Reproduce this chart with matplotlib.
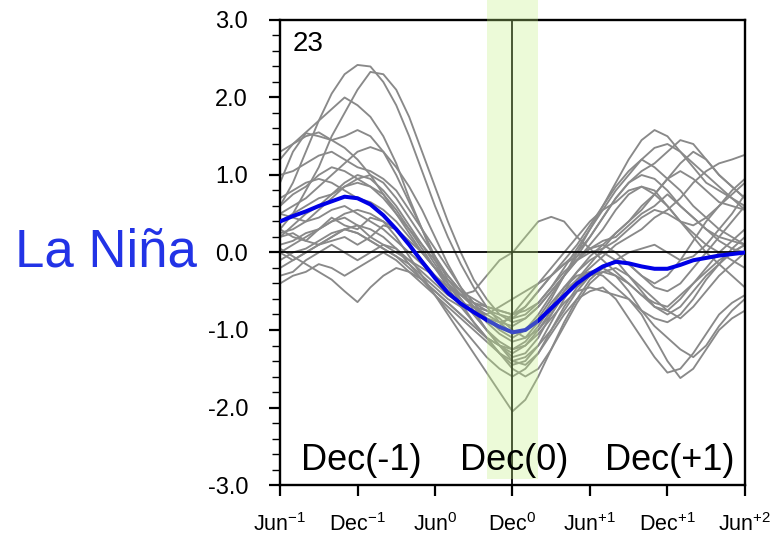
import matplotlib.pyplot as plt
import numpy as np

plt.rcParams['font.family'] = ['Liberation Sans', 'DejaVu Sans']
plt.rcParams['mathtext.fontset'] = 'custom'
plt.rcParams['mathtext.rm'] = 'Liberation Sans'
plt.rcParams['mathtext.it'] = 'Liberation Sans'

# 月 (Jun(-1) = 0 ... Jun(+2) = 36)
months = np.arange(37)
tick_pos = [0, 6, 12, 18, 24, 30, 36]
tick_labels = ['Jun$^{-1}$', 'Dec$^{-1}$', 'Jun$^{0}$', 'Dec$^{0}$',
               'Jun$^{+1}$', 'Dec$^{+1}$', 'Jun$^{+2}$']

# 各ラニーニャ事例 (23事例)
events = [
    [0.6, 0.9, 1.3, 1.7, 2.05, 2.3, 2.42, 2.4, 2.2, 1.9, 1.5, 1.05, 0.6, 0.2, -0.15, -0.45, -0.7, -0.9, -1.05, -1.0, -0.85, -0.6, -0.3, 0.0, 0.3, 0.6, 0.9, 1.2, 1.45, 1.58, 1.5, 1.3, 1.1, 0.9, 0.8, 0.7, 0.6],
    [0.3, 0.5, 0.8, 1.1, 1.5, 1.8, 2.1, 2.33, 2.3, 2.1, 1.75, 1.3, 0.85, 0.4, 0.0, -0.35, -0.6, -0.8, -0.9, -0.85, -0.7, -0.5, -0.3, -0.05, 0.2, 0.45, 0.7, 0.9, 1.05, 1.15, 1.3, 1.45, 1.4, 1.2, 1.0, 0.85, 0.7],
    [1.2, 1.4, 1.55, 1.7, 1.85, 2.0, 1.9, 1.75, 1.5, 1.15, 0.7, 0.3, -0.1, -0.4, -0.65, -0.9, -1.1, -1.3, -1.45, -1.4, -1.2, -0.9, -0.6, -0.35, -0.2, -0.05, 0.1, 0.2, 0.3, 0.45, 0.55, 0.7, 0.9, 1.05, 1.15, 1.2, 1.26],
    [1.3, 1.4, 1.5, 1.55, 1.45, 1.5, 1.58, 1.5, 1.3, 1.0, 0.65, 0.3, -0.05, -0.35, -0.55, -0.7, -0.8, -0.9, -0.95, -0.85, -0.7, -0.5, -0.3, -0.1, 0.1, 0.3, 0.55, 0.75, 0.85, 0.8, 0.6, 0.4, 0.25, 0.1, 0.0, -0.1, -0.2],
    [0.9, 1.3, 1.54, 1.5, 1.45, 1.35, 1.2, 1.0, 0.75, 0.5, 0.25, 0.0, -0.2, -0.4, -0.55, -0.65, -0.7, -0.75, -0.8, -0.7, -0.5, -0.3, -0.15, -0.05, 0.05, 0.15, 0.2, 0.35, 0.5, 0.6, 0.75, 0.6, 0.45, 0.3, 0.15, 0.05, 0.0],
    [0.5, 0.6, 0.7, 0.85, 1.0, 1.15, 1.3, 1.36, 1.3, 1.1, 0.85, 0.55, 0.2, -0.15, -0.45, -0.75, -1.0, -1.2, -1.35, -1.3, -1.1, -0.8, -0.5, -0.25, -0.05, 0.1, 0.25, 0.4, 0.55, 0.75, 0.95, 1.05, 0.95, 0.8, 0.65, 0.6, 0.55],
    [0.2, 0.35, 0.5, 0.6, 0.75, 0.9, 1.0, 0.95, 0.8, 0.6, 0.35, 0.1, -0.15, -0.4, -0.6, -0.8, -1.0, -1.15, -1.25, -1.15, -0.95, -0.7, -0.45, -0.25, -0.1, 0.0, -0.1, -0.3, -0.5, -0.7, -0.75, -0.6, -0.4, -0.2, 0.0, 0.15, 0.3],
    [0.6, 0.75, 0.85, 1.0, 1.1, 1.05, 0.95, 0.85, 0.7, 0.5, 0.3, 0.1, -0.1, -0.3, -0.5, -0.7, -0.85, -0.95, -0.8, -0.6, -0.4, -0.2, 0.0, 0.2, 0.4, 0.55, 0.65, 0.8, 0.85, 0.75, 0.6, 0.4, 0.2, 0.0, -0.15, -0.3, -0.45],
    [0.0, 0.1, 0.2, 0.3, 0.4, 0.5, 0.55, 0.5, 0.4, 0.2, -0.05, -0.3, -0.55, -0.8, -1.05, -1.3, -1.55, -1.8, -2.05, -1.9, -1.6, -1.25, -0.9, -0.6, -0.35, -0.2, -0.1, -0.15, -0.3, -0.45, -0.5, -0.4, -0.2, 0.0, 0.2, 0.4, 0.6],
    [0.1, 0.15, 0.25, 0.3, 0.4, 0.45, 0.35, 0.2, 0.1, 0.0, -0.1, -0.2, -0.3, -0.45, -0.55, -0.5, -0.3, -0.1, 0.0, 0.2, 0.4, 0.46, 0.4, 0.2, 0.05, -0.1, -0.25, -0.4, -0.55, -0.65, -0.7, -0.55, -0.4, -0.25, -0.1, 0.0, 0.1],
    [0.3, 0.2, 0.15, 0.1, 0.2, 0.3, 0.25, 0.15, 0.05, -0.05, -0.2, -0.35, -0.5, -0.65, -0.8, -0.95, -1.1, -1.2, -1.25, -1.2, -1.05, -0.85, -0.65, -0.5, -0.45, -0.5, -0.55, -0.6, -0.8, -1.1, -1.4, -1.62, -1.5, -1.25, -1.0, -0.85, -0.75],
    [-0.2, -0.1, 0.0, 0.1, 0.2, 0.3, 0.35, 0.3, 0.2, 0.05, -0.15, -0.35, -0.55, -0.75, -0.95, -1.15, -1.35, -1.5, -1.6, -1.5, -1.3, -1.05, -0.8, -0.6, -0.5, -0.45, -0.6, -0.85, -1.1, -1.35, -1.55, -1.5, -1.3, -1.05, -0.8, -0.65, -0.55],
    [-0.4, -0.3, -0.25, -0.15, -0.2, -0.3, -0.2, -0.1, 0.0, -0.1, -0.25, -0.4, -0.55, -0.7, -0.85, -1.0, -1.15, -1.3, -1.4, -1.35, -1.2, -1.0, -0.75, -0.5, -0.3, -0.25, -0.3, -0.5, -0.75, -0.95, -1.1, -1.25, -1.35, -1.2, -0.95, -0.75, -0.6],
    [0.05, -0.05, -0.15, -0.25, -0.35, -0.5, -0.64, -0.45, -0.3, -0.2, -0.25, -0.35, -0.5, -0.65, -0.8, -0.95, -1.1, -1.2, -1.3, -1.2, -1.0, -0.75, -0.5, -0.35, -0.25, -0.2, -0.3, -0.4, -0.55, -0.7, -0.8, -0.7, -0.5, -0.3, -0.15, 0.0, 0.1],
    [0.2, 0.25, 0.15, 0.3, 0.45, 0.35, 0.3, 0.45, 0.4, 0.3, 0.15, 0.0, -0.2, -0.35, -0.5, -0.6, -0.7, -0.75, -0.8, -0.75, -0.65, -0.45, -0.2, 0.05, 0.3, 0.55, 0.8, 1.0, 1.2, 1.35, 1.4, 1.3, 1.15, 1.0, 0.85, 0.7, 0.55],
    [0.7, 0.8, 0.9, 0.95, 0.9, 0.8, 0.7, 0.65, 0.55, 0.4, 0.2, 0.0, -0.2, -0.4, -0.6, -0.8, -1.0, -1.2, -1.4, -1.45, -1.3, -1.0, -0.7, -0.45, -0.3, -0.2, -0.1, 0.0, 0.05, 0.1, 0.0, -0.1, -0.05, 0.1, 0.3, 0.5, 0.75],
    [0.0, -0.1, 0.0, 0.1, 0.15, 0.2, 0.1, 0.2, 0.35, 0.3, 0.1, -0.1, -0.3, -0.5, -0.65, -0.75, -0.85, -0.9, -0.85, -0.7, -0.5, -0.3, -0.1, 0.1, 0.35, 0.6, 0.85, 1.05, 1.2, 1.1, 0.95, 0.8, 0.6, 0.45, 0.3, 0.2, 0.1],
    [1.0, 1.05, 1.15, 1.25, 1.3, 1.2, 1.1, 1.05, 0.95, 0.8, 0.55, 0.3, 0.05, -0.2, -0.45, -0.65, -0.85, -1.0, -1.1, -1.0, -0.8, -0.55, -0.3, -0.1, 0.05, 0.1, 0.0, -0.15, -0.3, -0.4, -0.3, -0.1, 0.15, 0.4, 0.6, 0.8, 0.95],
    [0.4, 0.5, 0.6, 0.7, 0.75, 0.85, 0.9, 0.85, 0.75, 0.55, 0.3, 0.05, -0.2, -0.45, -0.7, -0.9, -1.1, -1.3, -1.5, -1.6, -1.5, -1.25, -0.95, -0.65, -0.4, -0.25, -0.2, -0.3, -0.45, -0.6, -0.75, -0.85, -0.7, -0.5, -0.3, -0.15, 0.0],
    [-0.1, 0.0, 0.05, 0.15, 0.25, 0.3, 0.25, 0.15, 0.05, -0.05, -0.15, -0.3, -0.45, -0.6, -0.7, -0.75, -0.8, -0.7, -0.6, -0.5, -0.4, -0.3, -0.15, 0.0, 0.2, 0.45, 0.7, 0.9, 1.0, 0.95, 0.8, 0.6, 0.45, 0.3, 0.2, 0.15, 0.1],
    [0.5, 0.45, 0.4, 0.45, 0.55, 0.6, 0.5, 0.4, 0.3, 0.15, 0.0, -0.15, -0.3, -0.45, -0.55, -0.65, -0.75, -0.85, -1.0, -1.1, -1.0, -0.8, -0.55, -0.35, -0.15, 0.05, 0.25, 0.4, 0.6, 0.75, 0.95, 1.15, 1.3, 1.2, 1.0, 0.85, 0.7],
    [0.25, 0.3, 0.4, 0.55, 0.7, 0.85, 0.95, 1.0, 0.9, 0.7, 0.45, 0.2, -0.05, -0.3, -0.5, -0.7, -0.9, -1.05, -1.15, -1.1, -0.9, -0.65, -0.45, -0.3, -0.25, -0.3, -0.45, -0.6, -0.75, -0.85, -0.9, -0.8, -0.6, -0.35, -0.15, 0.05, 0.2],
    [-0.3, -0.25, -0.1, 0.0, 0.1, 0.0, -0.1, 0.0, 0.1, 0.05, -0.1, -0.25, -0.4, -0.55, -0.65, -0.7, -0.75, -0.8, -0.85, -0.8, -0.65, -0.45, -0.25, -0.1, 0.0, 0.05, 0.15, 0.3, 0.45, 0.55, 0.5, 0.4, 0.35, 0.45, 0.6, 0.75, 0.9],
]

# 合成平均
composite = [0.40, 0.47, 0.53, 0.60, 0.66, 0.72, 0.70, 0.62, 0.48, 0.30, 0.10, -0.12,
             -0.33, -0.52, -0.66, -0.77, -0.87, -0.96, -1.03, -1.00, -0.88, -0.72,
             -0.56, -0.40, -0.28, -0.18, -0.12, -0.14, -0.18, -0.21, -0.21, -0.16,
             -0.10, -0.07, -0.04, -0.02, 0.00]

fig = plt.figure(figsize=(7.8, 5.43), dpi=100)
ax = fig.add_axes([0.359, 0.1068, 0.596, 0.8564])

for ev in events:
    ax.plot(months, ev, color='#898989', lw=1.35, zorder=2)
ax.plot(months, composite, color='#0000e6', lw=2.9, zorder=3)

ax.axhline(0, color='black', lw=1.3, zorder=2.6)
ax.axvline(18, color='black', lw=1.3, zorder=2.6)

# 強調期間 (Dec(0)周辺)
ax.fill_between([16, 20], -2.92, 3.26, color='#c2f281', alpha=0.31,
                lw=0, zorder=4, clip_on=False)

ax.set_xlim(0, 36)
ax.set_ylim(-3, 3)
ax.set_xticks(tick_pos)
ax.set_xticklabels(tick_labels)
yt = np.arange(-3, 3.01, 1.0)
ax.set_yticks(yt)
ax.set_yticklabels([f'{v:.1f}' for v in yt])
ax.set_yticks(np.arange(-3, 3.01, 0.2), minor=True)
ax.tick_params(axis='x', direction='out', length=8, width=1.6, pad=12,
               labelsize=15.5)
ax.tick_params(axis='y', which='major', direction='out', length=8, width=1.6,
               pad=15, labelsize=17)
ax.tick_params(axis='y', which='minor', direction='out', length=5.5, width=1.0)
for sp in ax.spines.values():
    sp.set_linewidth(1.7)

ax.text(1.0, 2.86, '23', fontsize=20, va='top', ha='left', zorder=5)
ax.text(6.3, -2.8, 'Dec(-1)', fontsize=26, ha='center', va='baseline', zorder=5)
ax.text(18.1, -2.8, 'Dec(0)', fontsize=26, ha='center', va='baseline', zorder=5)
ax.text(30.2, -2.8, 'Dec(+1)', fontsize=26, ha='center', va='baseline', zorder=5)

fig.text(0.136, 0.535, 'La Niña', fontsize=38, color='#2233e6',
         ha='center', va='center')

fig.savefig('out.png', dpi=100)
